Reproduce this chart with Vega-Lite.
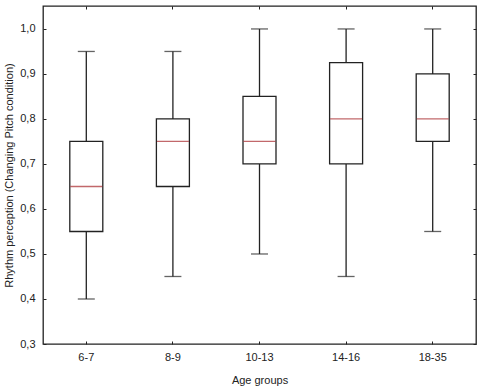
{
  "$schema": "https://vega.github.io/schema/vega-lite/v6.json",
  "width": 433,
  "height": 338,
  "autosize": {"type": "none"},
  "padding": {"left": 43, "top": 6, "right": 4, "bottom": 42},
  "background": "white",
  "config": {
    "view": {"stroke": "#222", "strokeWidth": 1.3},
    "font": "Liberation Sans",
    "axis": {
      "labelFont": "Liberation Sans",
      "titleFont": "Liberation Sans",
      "labelFontSize": 11,
      "titleFontSize": 11,
      "titleFontWeight": "normal",
      "labelColor": "#222",
      "titleColor": "#222",
      "domain": false,
      "grid": false,
      "tickColor": "#222",
      "tickSize": -3,
      "tickWidth": 1
    }
  },
  "data": {
    "values": [
      {"group": "6-7", "lo": 0.40, "q1": 0.55, "med": 0.65, "q3": 0.75, "hi": 0.95},
      {"group": "8-9", "lo": 0.45, "q1": 0.65, "med": 0.75, "q3": 0.80, "hi": 0.95},
      {"group": "10-13", "lo": 0.50, "q1": 0.70, "med": 0.75, "q3": 0.85, "hi": 1.00},
      {"group": "14-16", "lo": 0.45, "q1": 0.70, "med": 0.80, "q3": 0.925, "hi": 1.00},
      {"group": "18-35", "lo": 0.55, "q1": 0.75, "med": 0.80, "q3": 0.90, "hi": 1.00}
    ]
  },
  "resolve": {"axis": {"x": "independent", "y": "independent"}},
  "layer": [
    {
      "mark": {"type": "rule", "color": "#222", "strokeWidth": 1.3},
      "encoding": {
        "x": {
          "field": "group",
          "type": "ordinal",
          "sort": null,
          "scale": {"paddingInner": 0, "paddingOuter": 0},
          "axis": {"title": "Age groups", "labelAngle": 0, "labelPadding": 10, "titlePadding": 12}
        },
        "y": {
          "field": "lo",
          "type": "quantitative",
          "scale": {"domain": [0.3, 1.051], "nice": false, "zero": false},
          "axis": {
            "title": "Rhythm perception (Changing Pitch condition)",
            "values": [0.3, 0.4, 0.5, 0.6, 0.7, 0.8, 0.9, 1.0],
            "labelExpr": "replace(format(datum.value, '.1f'), '.', ',')",
            "labelPadding": 11,
            "titlePadding": 5
          }
        },
        "y2": {"field": "hi"}
      }
    },
    {
      "mark": {"type": "tick", "color": "#222", "size": 17, "thickness": 1.3},
      "encoding": {
        "x": {
          "field": "group",
          "type": "ordinal",
          "sort": null,
          "axis": {"orient": "top", "labels": false, "title": null}
        },
        "y": {
          "field": "lo",
          "type": "quantitative",
          "axis": {
            "orient": "right",
            "values": [0.3, 0.4, 0.5, 0.6, 0.7, 0.8, 0.9, 1.0],
            "labels": false,
            "title": null
          }
        }
      }
    },
    {
      "mark": {"type": "tick", "color": "#222", "size": 17, "thickness": 1.3},
      "encoding": {
        "x": {"field": "group", "type": "ordinal", "sort": null, "axis": null},
        "y": {"field": "hi", "type": "quantitative", "axis": null}
      }
    },
    {
      "mark": {"type": "bar", "fill": "white", "stroke": "#222", "strokeWidth": 1.3, "width": 33},
      "encoding": {
        "x": {"field": "group", "type": "ordinal", "sort": null, "axis": null},
        "y": {"field": "q1", "type": "quantitative", "axis": null},
        "y2": {"field": "q3"}
      }
    },
    {
      "mark": {"type": "tick", "color": "#a8282c", "size": 32, "thickness": 1.3},
      "encoding": {
        "x": {"field": "group", "type": "ordinal", "sort": null, "axis": null},
        "y": {"field": "med", "type": "quantitative", "axis": null}
      }
    }
  ]
}
